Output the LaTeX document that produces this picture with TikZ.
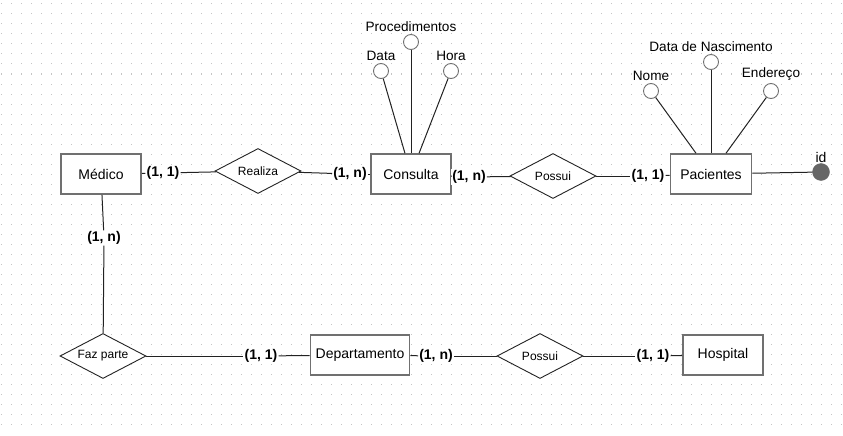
\documentclass[tikz,border=0pt]{standalone}
\usepackage{fontspec}
\setmainfont{Liberation Sans}
\usepackage{xcolor}
\usepackage{tikz}
\usetikzlibrary{shapes.geometric,positioning}
\definecolor{borda}{HTML}{707070}
\definecolor{linha}{HTML}{222222}
\definecolor{ponto}{HTML}{C4C4C4}
\definecolor{chave}{HTML}{666666}
\tikzset{
  entidade/.style={draw=borda,line width=1.6pt,fill=white,minimum width=80pt,minimum height=40pt,inner sep=2pt,font=\fontsize{14}{16}\selectfont},
  relacao/.style={diamond,draw=linha,line width=0.9pt,fill=white,minimum width=86pt,minimum height=45pt,inner sep=1pt,aspect=1.9,font=\fontsize{12}{14}\selectfont},
  atributo/.style={circle,draw=borda,line width=0.9pt,fill=white,minimum size=15pt,inner sep=0pt},
  chaveatr/.style={circle,draw=chave,fill=chave,minimum size=17pt,inner sep=0pt},
  rotulo/.style={font=\fontsize{13.6}{15}\selectfont,inner sep=1pt},
  card/.style={font=\fontsize{14}{16}\selectfont\bfseries,fill=white,inner sep=1pt},
  liga/.style={draw=linha,line width=1pt},
}

\begin{document}
\begin{tikzpicture}[x=1pt,y=-1pt]
  \useasboundingbox (0,0) rectangle (843,436);
  % grade de pontos
  \foreach \i in {0,...,84}
    \foreach \j in {0,...,42}
      \fill[ponto] ({1+10*\i},{3.5+10*\j}) rectangle ++(1,1);

  % entidades
  \node[entidade] (medico) at (101,174) {Médico};
  \node[entidade] (consulta) at (411,174) {Consulta};
  \node[entidade,minimum width=81pt] (pacientes) at (711,174) {Pacientes};
  \node[entidade,minimum width=99pt] (departamento) at (360,355) {Departamento};
  \node[entidade] (hospital) at (723,355) {Hospital};

  % relacionamentos
  \node[relacao] (realiza) at (258,171) {Realiza};
  \node[relacao] (possui1) at (553,176) {Possui};
  \node[relacao] (fazparte) at (103,356) {Faz parte};
  \node[relacao] (possui2) at (540,356) {Possui};

  % atributos de Consulta
  \node[atributo] (procedimentos) at (411,42) {};
  \node[rotulo,above=1pt of procedimentos] {Procedimentos};
  \node[atributo] (data) at (381,71) {};
  \node[rotulo,above=1pt of data] {Data};
  \node[atributo] (hora) at (451,71) {};
  \node[rotulo,above=1pt of hora] {Hora};

  % atributos de Pacientes
  \node[atributo] (nascimento) at (711,62) {};
  \node[rotulo,above=1pt of nascimento] {Data de Nascimento};
  \node[atributo] (nome) at (651,91) {};
  \node[rotulo,above=1pt of nome] {Nome};
  \node[atributo] (endereco) at (771,91) {};
  \node[rotulo,above=1pt of endereco] {Endereço};
  \node[chaveatr] (id) at (821,172) {};
  \node[rotulo,font=\fontsize{14}{16}\selectfont,above=-1pt of id] {id};

  % cardinalidades
  \node[card] (c1) at (163,173) {(1, 1)};
  \node[card] (c2) at (350,174) {(1, n)};
  \node[card] (c3) at (469,177) {(1, n)};
  \node[card] (c4) at (648,176) {(1, 1)};
  \node[card] (c5) at (104,238) {(1, n)};
  \node[card] (c6) at (261,356) {(1, 1)};
  \node[card] (c7) at (436,356) {(1, n)};
  \node[card] (c8) at (653,356) {(1, 1)};

  % ligacoes
  \draw[liga] (medico) -- (c1);
  \draw[liga] (c1) -- (realiza);
  \draw[liga] (realiza) -- (c2);
  \draw[liga] (c2) -- (consulta);
  \draw[liga] (consulta) -- (c3);
  \draw[liga] (c3) -- (possui1);
  \draw[liga] (possui1) -- (c4);
  \draw[liga] (c4) -- (pacientes);
  \draw[liga] (medico) -- (c5);
  \draw[liga] (c5) -- (fazparte);
  \draw[liga] (fazparte) -- (c6);
  \draw[liga] (c6) -- (departamento);
  \draw[liga] (departamento) -- (c7);
  \draw[liga] (c7) -- (possui2);
  \draw[liga] (possui2) -- (c8);
  \draw[liga] (c8) -- (hospital);
  \draw[liga] (data) -- (consulta);
  \draw[liga] (procedimentos) -- (consulta);
  \draw[liga] (hora) -- (consulta);
  \draw[liga] (nome) -- (pacientes);
  \draw[liga] (nascimento) -- (pacientes);
  \draw[liga] (endereco) -- (pacientes);
  \draw[liga] (pacientes) -- (id);
\end{tikzpicture}
\end{document}
